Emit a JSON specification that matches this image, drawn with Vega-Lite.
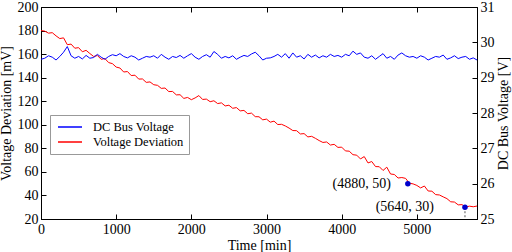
{
  "$schema": "https://vega.github.io/schema/vega-lite/v6.json",
  "width": 436,
  "height": 212,
  "autosize": {"type": "none"},
  "padding": {"left": 41, "top": 7, "right": 35, "bottom": 33},
  "background": "white",
  "config": {
    "font": "Liberation Serif",
    "view": {"stroke": "black", "strokeWidth": 1},
    "axis": {
      "labelFont": "Liberation Serif", "titleFont": "Liberation Serif",
      "labelFontSize": 14, "titleFontSize": 14, "titleFontWeight": "normal",
      "labelColor": "black", "titleColor": "black",
      "domainColor": "black", "tickColor": "black",
      "tickSize": -5, "grid": false, "labelPadding": 8, "labelOverlap": false, "labelFlush": false
    },
    "axisY": {"labelOverlap": false, "labelSeparation": 0}
  },
  "datasets": {
    "series": [
      {"t":0,"dev":180,"bus":29.52},{"t":50,"dev":179.5,"bus":29.55},{"t":100,"dev":177.8,"bus":29.62},{"t":150,"dev":178.2,"bus":29.58},
      {"t":200,"dev":175.5,"bus":29.5},{"t":250,"dev":173.2,"bus":29.6},{"t":300,"dev":173.8,"bus":29.72},{"t":350,"dev":168,"bus":29.88},
      {"t":400,"dev":168.5,"bus":29.62},{"t":450,"dev":165,"bus":29.55},{"t":500,"dev":165.5,"bus":29.6},{"t":550,"dev":162,"bus":29.53},
      {"t":600,"dev":163.2,"bus":29.63},{"t":650,"dev":160.5,"bus":29.55},{"t":700,"dev":158,"bus":29.57},{"t":750,"dev":158.8,"bus":29.66},
      {"t":800,"dev":155.6,"bus":29.58},{"t":850,"dev":156.2,"bus":29.52},{"t":900,"dev":152.8,"bus":29.6},{"t":950,"dev":151.9,"bus":29.65},
      {"t":1000,"dev":149,"bus":29.62},{"t":1050,"dev":148.2,"bus":29.68},{"t":1100,"dev":144.8,"bus":29.6},{"t":1150,"dev":145.2,"bus":29.56},
      {"t":1200,"dev":141.8,"bus":29.62},{"t":1250,"dev":142.1,"bus":29.58},{"t":1300,"dev":138.8,"bus":29.5},{"t":1350,"dev":138.9,"bus":29.55},
      {"t":1400,"dev":136,"bus":29.6},{"t":1450,"dev":136.4,"bus":29.58},{"t":1500,"dev":134,"bus":29.62},{"t":1550,"dev":133.5,"bus":29.55},
      {"t":1600,"dev":130.9,"bus":29.66},{"t":1650,"dev":131.2,"bus":29.58},{"t":1700,"dev":128.2,"bus":29.52},{"t":1750,"dev":128.3,"bus":29.6},
      {"t":1800,"dev":125.4,"bus":29.57},{"t":1850,"dev":125.5,"bus":29.63},{"t":1900,"dev":122.4,"bus":29.55},{"t":1950,"dev":123.2,"bus":29.62},
      {"t":2000,"dev":121.3,"bus":29.68},{"t":2050,"dev":122.8,"bus":29.58},{"t":2100,"dev":124.8,"bus":29.52},{"t":2150,"dev":121.5,"bus":29.6},
      {"t":2200,"dev":121.8,"bus":29.65},{"t":2250,"dev":119.6,"bus":29.58},{"t":2300,"dev":120.4,"bus":29.74},{"t":2350,"dev":118,"bus":29.66},
      {"t":2400,"dev":118.6,"bus":29.55},{"t":2450,"dev":116,"bus":29.6},{"t":2500,"dev":116.6,"bus":29.56},{"t":2550,"dev":114,"bus":29.62},
      {"t":2600,"dev":114.6,"bus":29.52},{"t":2650,"dev":111.8,"bus":29.58},{"t":2700,"dev":112.2,"bus":29.63},{"t":2750,"dev":109.4,"bus":29.6},
      {"t":2800,"dev":109.9,"bus":29.67},{"t":2850,"dev":106.9,"bus":29.72},{"t":2900,"dev":106.8,"bus":29.62},{"t":2950,"dev":104.2,"bus":29.5},
      {"t":3000,"dev":104.8,"bus":29.55},{"t":3050,"dev":102.2,"bus":29.56},{"t":3100,"dev":103.1,"bus":29.6},{"t":3150,"dev":100.2,"bus":29.66},
      {"t":3200,"dev":100.4,"bus":29.58},{"t":3250,"dev":99,"bus":29.68},{"t":3300,"dev":97.2,"bus":29.55},{"t":3350,"dev":95.1,"bus":29.7},
      {"t":3400,"dev":95,"bus":29.58},{"t":3450,"dev":92.2,"bus":29.62},{"t":3500,"dev":92.5,"bus":29.53},{"t":3550,"dev":89.7,"bus":29.66},
      {"t":3600,"dev":90.2,"bus":29.58},{"t":3650,"dev":88.5,"bus":29.64},{"t":3700,"dev":86.6,"bus":29.56},{"t":3750,"dev":85,"bus":29.62},
      {"t":3800,"dev":85.4,"bus":29.58},{"t":3850,"dev":82.8,"bus":29.66},{"t":3900,"dev":83.4,"bus":29.6},{"t":3950,"dev":80.8,"bus":29.63},
      {"t":4000,"dev":81,"bus":29.58},{"t":4050,"dev":77.8,"bus":29.66},{"t":4100,"dev":77.6,"bus":29.62},{"t":4150,"dev":74.6,"bus":29.75},
      {"t":4200,"dev":74.2,"bus":29.66},{"t":4250,"dev":71,"bus":29.7},{"t":4300,"dev":73,"bus":29.58},{"t":4350,"dev":67.6,"bus":29.55},
      {"t":4400,"dev":68.8,"bus":29.62},{"t":4450,"dev":64.5,"bus":29.52},{"t":4500,"dev":64.4,"bus":29.6},{"t":4550,"dev":61.2,"bus":29.68},
      {"t":4600,"dev":64,"bus":29.55},{"t":4650,"dev":58.2,"bus":29.6},{"t":4700,"dev":57.8,"bus":29.52},{"t":4750,"dev":54.8,"bus":29.64},
      {"t":4800,"dev":55.2,"bus":29.7},{"t":4850,"dev":54.5,"bus":29.62},{"t":4900,"dev":50.4,"bus":29.58},{"t":4950,"dev":49.8,"bus":29.6},
      {"t":5000,"dev":48.5,"bus":29.55},{"t":5050,"dev":46.4,"bus":29.62},{"t":5100,"dev":48,"bus":29.58},{"t":5150,"dev":43.8,"bus":29.5},
      {"t":5200,"dev":43.6,"bus":29.55},{"t":5250,"dev":40.7,"bus":29.6},{"t":5300,"dev":40.4,"bus":29.58},{"t":5350,"dev":38.8,"bus":29.64},
      {"t":5400,"dev":37.3,"bus":29.52},{"t":5450,"dev":34.6,"bus":29.56},{"t":5500,"dev":34.4,"bus":29.62},{"t":5550,"dev":32,"bus":29.54},
      {"t":5600,"dev":32.2,"bus":29.58},{"t":5650,"dev":30.2,"bus":29.6},{"t":5700,"dev":30.9,"bus":29.52},{"t":5750,"dev":30.4,"bus":29.56},
      {"t":5800,"dev":31,"bus":29.5}
    ],
    "points": [
      {"t": 4880, "dev": 50, "base": 20, "label": "(4880, 50)"},
      {"t": 5640, "dev": 30, "base": 20, "label": "(5640, 30)"}
    ]
  },
  "layer": [
    {
      "layer": [
        {
          "data": {"name": "series"},
          "mark": {"type": "line", "strokeWidth": 1, "interpolate": "linear"},
          "encoding": {
            "x": {"field": "t", "type": "quantitative", "scale": {"domain": [0, 5800], "nice": false},
                  "axis": {"orient": "bottom", "values": [0,1000,2000,3000,4000,5000], "format": "d", "title": "Time [min]", "titlePadding": 2, "labelOverlap": false}},
            "y": {"field": "dev", "type": "quantitative", "scale": {"domain": [20, 200], "nice": false},
                  "axis": {"orient": "left", "values": [20,40,60,80,100,120,140,160,180,200], "format": "d", "title": "Voltage Deviation [mV]", "labelOverlap": false, "labelSeparation": 0}},
            "color": {"datum": "Voltage Deviation", "type": "nominal",
                      "scale": {"domain": ["DC Bus Voltage", "Voltage Deviation"], "range": ["#0000ff", "#ff0000"]},
                      "legend": {"orient": "none", "legendX": 9, "legendY": 108, "title": null, "direction": "vertical",
                                 "strokeColor": "#999999", "fillColor": "white", "padding": 5,
                                 "symbolType": "M-1,0H3", "symbolSize": 144, "symbolStrokeWidth": 1.5,
                                 "symbolFillColor": "transparent", "symbolOffset": 2,
                                 "labelFont": "Liberation Serif", "labelFontSize": 12.5, "labelColor": "black",
                                 "labelOffset": 22, "rowPadding": 1}}
          }
        },
        {
          "data": {"name": "points"},
          "transform": [{"filter": "datum.t > 5000"}],
          "mark": {"type": "rule", "strokeDash": [2, 2], "color": "#555555", "strokeWidth": 1},
          "encoding": {
            "x": {"field": "t", "type": "quantitative",
                  "axis": {"orient": "bottom", "values": [0,1000,2000,3000,4000,5000], "format": "d", "title": "Time [min]", "titlePadding": 2, "labelOverlap": false}},
            "y": {"field": "dev", "type": "quantitative",
                  "axis": {"orient": "left", "values": [20,40,60,80,100,120,140,160,180,200], "format": "d", "title": "Voltage Deviation [mV]", "labelOverlap": false, "labelSeparation": 0}},
            "y2": {"field": "base"}
          }
        },
        {
          "data": {"name": "points"},
          "mark": {"type": "point", "filled": true, "color": "#0000cc", "size": 30, "opacity": 1},
          "encoding": {
            "x": {"field": "t", "type": "quantitative",
                  "axis": {"orient": "bottom", "values": [0,1000,2000,3000,4000,5000], "format": "d", "title": "Time [min]", "titlePadding": 2, "labelOverlap": false}},
            "y": {"field": "dev", "type": "quantitative",
                  "axis": {"orient": "left", "values": [20,40,60,80,100,120,140,160,180,200], "format": "d", "title": "Voltage Deviation [mV]", "labelOverlap": false, "labelSeparation": 0}}
          }
        },
        {
          "data": {"name": "points"},
          "transform": [{"filter": "datum.t < 5000"}],
          "mark": {"type": "text", "align": "right", "baseline": "middle", "dx": -17, "fontSize": 14, "font": "Liberation Serif", "color": "black"},
          "encoding": {
            "x": {"field": "t", "type": "quantitative",
                  "axis": {"orient": "bottom", "values": [0,1000,2000,3000,4000,5000], "format": "d", "title": "Time [min]", "titlePadding": 2, "labelOverlap": false}},
            "y": {"field": "dev", "type": "quantitative",
                  "axis": {"orient": "left", "values": [20,40,60,80,100,120,140,160,180,200], "format": "d", "title": "Voltage Deviation [mV]", "labelOverlap": false, "labelSeparation": 0}},
            "text": {"field": "label"}
          }
        },
        {
          "data": {"name": "points"},
          "transform": [{"filter": "datum.t > 5000"}],
          "mark": {"type": "text", "align": "right", "baseline": "middle", "dx": -31, "fontSize": 14, "font": "Liberation Serif", "color": "black"},
          "encoding": {
            "x": {"field": "t", "type": "quantitative",
                  "axis": {"orient": "bottom", "values": [0,1000,2000,3000,4000,5000], "format": "d", "title": "Time [min]", "titlePadding": 2, "labelOverlap": false}},
            "y": {"field": "dev", "type": "quantitative",
                  "axis": {"orient": "left", "values": [20,40,60,80,100,120,140,160,180,200], "format": "d", "title": "Voltage Deviation [mV]", "labelOverlap": false, "labelSeparation": 0}},
            "text": {"field": "label"}
          }
        }
      ]
    },
    {
      "data": {"name": "series"},
      "mark": {"type": "line", "strokeWidth": 1},
      "encoding": {
        "x": {"field": "t", "type": "quantitative", "scale": {"domain": [0, 5800], "nice": false},
              "axis": {"orient": "top", "values": [0,1000,2000,3000,4000,5000], "labels": false, "title": null, "domain": false}},
        "y": {"field": "bus", "type": "quantitative", "scale": {"domain": [25, 31], "nice": false},
              "axis": {"orient": "right", "values": [25,26,27,28,29,30,31], "title": "DC Bus Voltage [V]", "titleAngle": 270, "titlePadding": 16, "labelOverlap": false}},
        "color": {"datum": "DC Bus Voltage", "type": "nominal"}
      }
    }
  ],
  "resolve": {"scale": {"y": "independent"}, "axis": {"x": "independent"}}
}
